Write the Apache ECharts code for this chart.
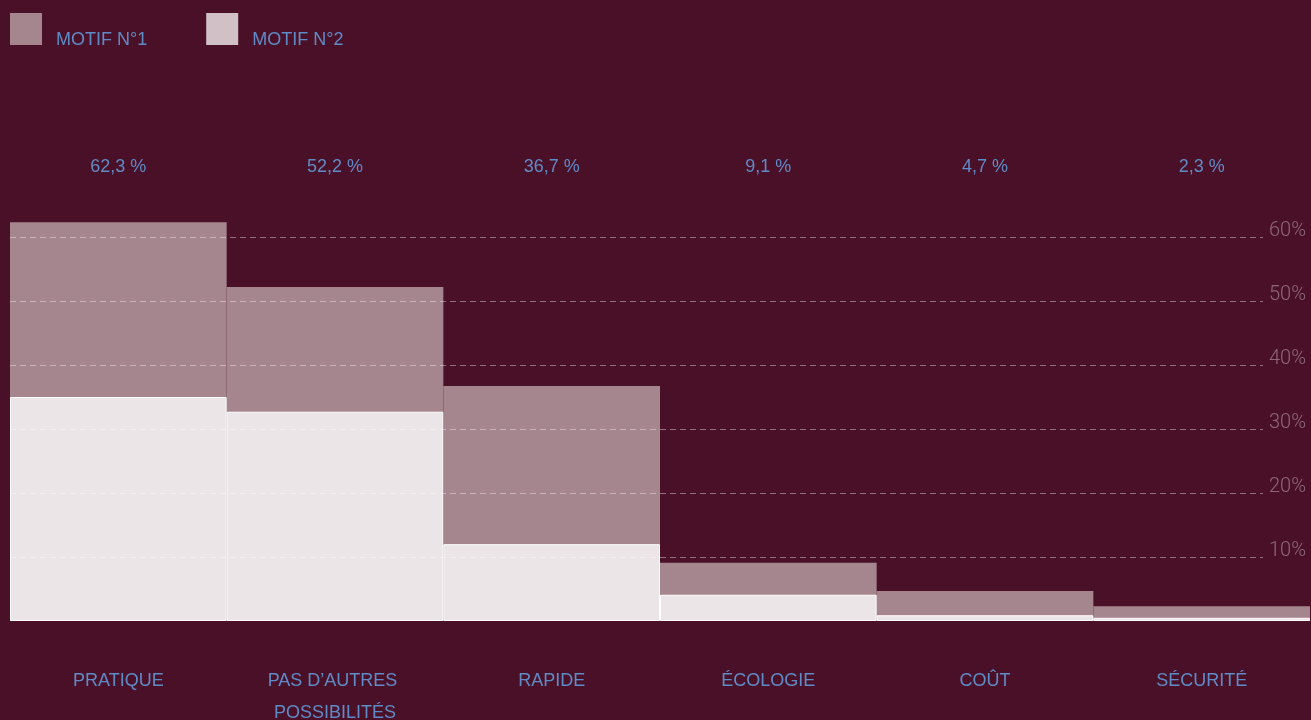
<!DOCTYPE html>
<html>
<head>
<meta charset="utf-8">
<script src="https://cdn.jsdelivr.net/npm/echarts@6/dist/echarts.min.js"></script>
<style>
  html, body { margin: 0; padding: 0; background: #4a1028; }
  #main { width: 1311px; height: 720px; }
</style>
</head>
<body>
<div id="main"></div>
<script>
// données
var categories = ['PRATIQUE', 'PAS D’AUTRES POSSIBILITÉS', 'RAPIDE', 'ÉCOLOGIE', 'COÛT', 'SÉCURITÉ'];
var motif1 = [62.3, 52.2, 36.7, 9.1, 4.7, 2.3];
var motif2 = [35.0, 32.7, 12.0, 4.1, 0.9, 0.5];
var yTicks = [0, 10, 20, 30, 40, 50, 60];

var blue = '#5f8bc6';
var font = 'Liberation Sans, Arial, sans-serif';

var option = {
    backgroundColor: '#4a1028',
    animation: false,
    legend: {
        left: 10,
        top: 13,
        padding: 0,
        itemWidth: 32,
        itemHeight: 32,
        itemGap: 59,
        icon: 'rect',
        formatter: '{t|{name}}',
        textStyle: {
            color: blue, fontSize: 18, fontFamily: font,
            rich: { t: { color: blue, fontSize: 18, fontFamily: font, padding: [22, 0, 0, 9] } }
        },
        data: [
            { name: 'MOTIF N°1', itemStyle: { color: '#a5868f', borderWidth: 0 } },
            { name: 'MOTIF N°2', itemStyle: { color: '#d1c1c7', borderWidth: 0 } }
        ]
    },
    grid: [
        { left: 10, right: 1, top: 205, bottom: 99, outerBoundsMode: 'none' },
        { left: 10, right: 48, top: 237, bottom: 99, outerBoundsMode: 'none' }
    ],
    xAxis: [
        {
            type: 'category', gridIndex: 0, data: categories,
            axisLine: { show: false }, axisTick: { show: false },
            axisLabel: {
                color: blue, fontSize: 18, fontFamily: font, margin: 44,
                lineHeight: 32, width: 200, overflow: 'break', interval: 0
            }
        },
        {
            type: 'category', gridIndex: 0, position: 'top', data: categories,
            axisLine: { show: false }, axisTick: { show: false },
            axisLabel: {
                color: blue, fontSize: 18, fontFamily: font, margin: 29, interval: 0,
                formatter: function (v, i) { return motif1[i].toFixed(1).replace('.', ',') + ' %'; }
            }
        },
        { type: 'value', gridIndex: 1, show: false }
    ],
    yAxis: [
        { type: 'value', gridIndex: 0, min: 0, max: 65, show: false },
        {
            type: 'value', gridIndex: 1, position: 'right', z: 10,
            min: yTicks[0], max: yTicks[yTicks.length - 1], interval: 10,
            axisLine: { show: false }, axisTick: { show: false },
            axisLabel: {
                showMinLabel: false, margin: 6,
                verticalAlign: 'bottom', lineHeight: 12,
                color: 'rgba(255,255,255,0.36)', fontSize: 20,
                fontFamily: 'Roboto, Liberation Sans, sans-serif', fontWeight: 300,
                formatter: '{value}%'
            },
            splitLine: {
                show: true, showMinLine: false,
                lineStyle: { color: 'rgba(255,255,255,0.4)', type: [6, 4], width: 1 }
            }
        }
    ],
    series: [
        {
            name: 'MOTIF N°1', type: 'bar', xAxisIndex: 0, yAxisIndex: 0,
            data: motif1, barCategoryGap: 0, barGap: '-100%',
            itemStyle: { color: '#a5868f' }
        },
        {
            name: 'MOTIF N°2', type: 'bar', xAxisIndex: 0, yAxisIndex: 0,
            data: motif2, barCategoryGap: 0, barGap: '-100%',
            itemStyle: { color: '#ebe5e7', borderColor: '#ffffff', borderWidth: 1 }
        }
    ]
};

var myChart = echarts.init(document.getElementById('main'));
myChart.setOption(option, true);
</script>
</body>
</html>
